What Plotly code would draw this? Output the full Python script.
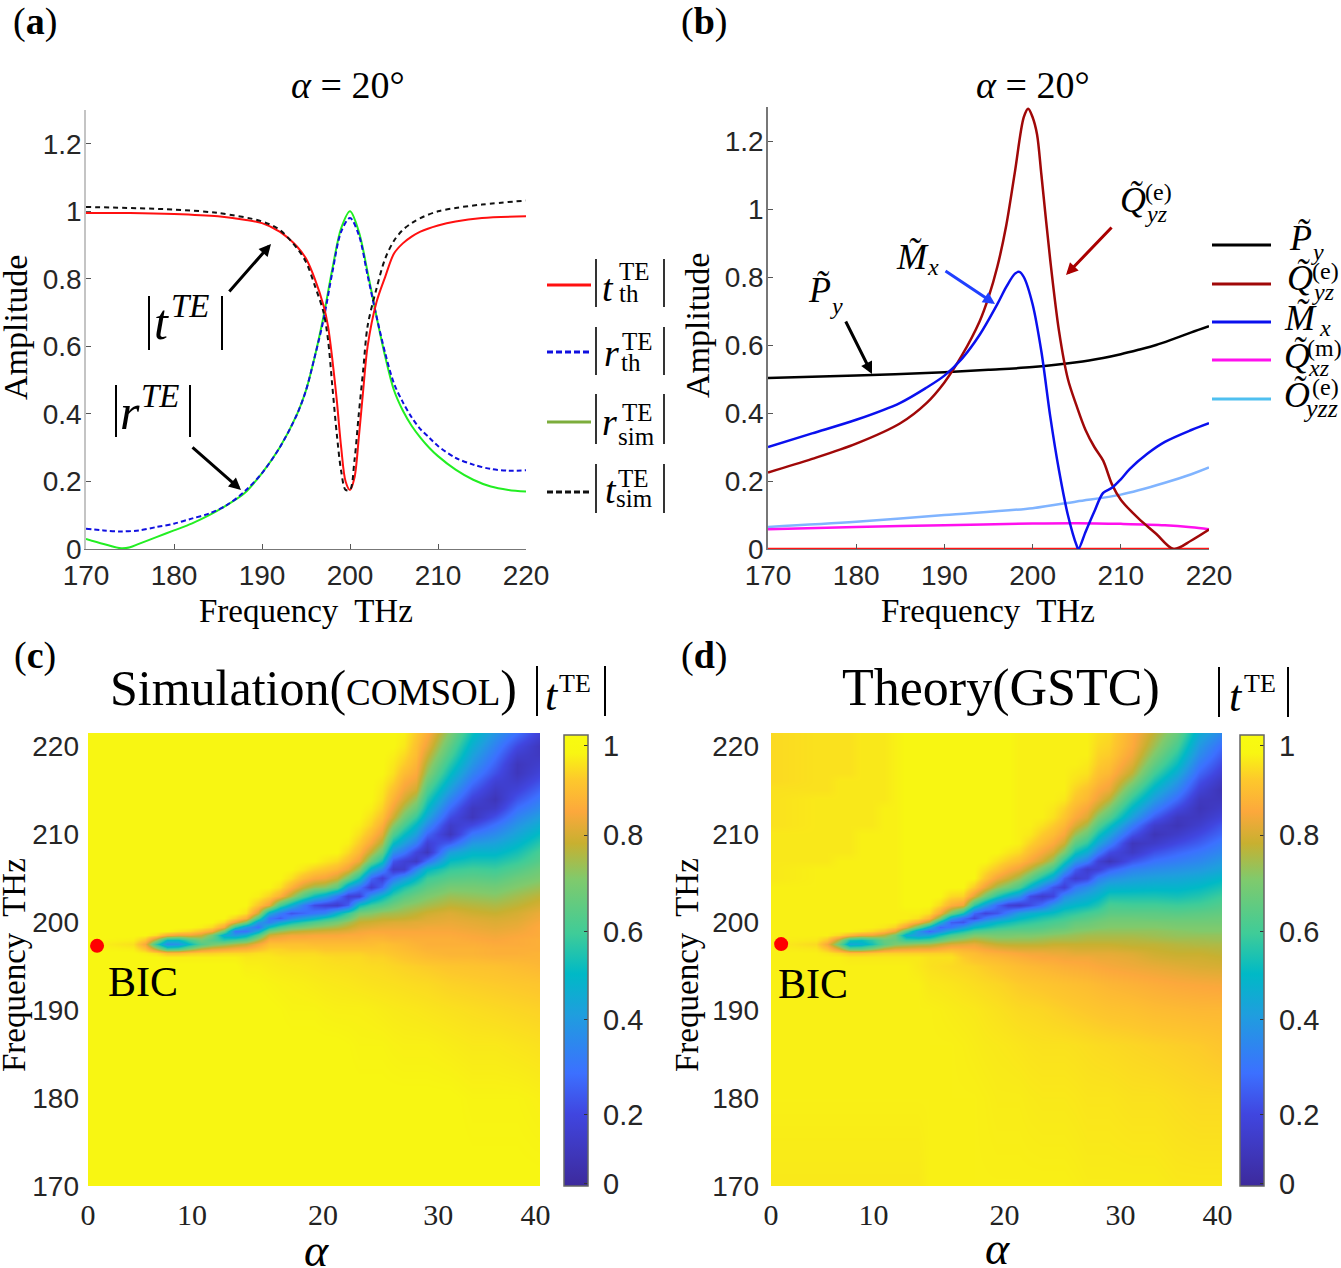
import plotly.graph_objects as go

W, H = 1341, 1268
SERIF = "Liberation Serif"
SANS = "Liberation Sans"

# ---------- panel (a) ----------
F_T_TH = [170,175,180,185,188,190,192,193,194,195,196,197,197.5,198,198.5,199,199.5,200,200.5,201,201.5,202,203,204,205,206,207,208,210,212,215,220]
T_TH = [.995,.995,.992,.985,.975,.965,.94,.92,.895,.86,.80,.72,.66,.56,.44,.30,.20,.175,.21,.33,.47,.60,.73,.806,.875,.905,.925,.94,.958,.97,.98,.985]
F_T_SIM = [170,180,185,190,192,194,195,196,197,197.5,198,198.5,199,199.5,200,200.5,201,201.5,202,203,204,205,206,207,208,210,212,215,220]
T_SIM = [1.013,1.005,.995,.97,.945,.89,.85,.78,.70,.62,.48,.34,.23,.175,.175,.26,.40,.53,.66,.77,.86,.913,.945,.965,.98,1.0,1.01,1.02,1.032]
F_R_TH = [170,172,174,176,178,180,182,184,186,188,190,192,194,195,196,197,198,199,200,201,202,203,204,205,206,207,208,209,210,212,214,216,218,220]
R_TH = [.06,.055,.052,.055,.065,.075,.09,.105,.13,.17,.225,.30,.40,.47,.57,.68,.82,.94,.98,.93,.81,.69,.58,.49,.435,.39,.355,.33,.305,.27,.25,.237,.232,.233]
F_R_SIM = [170,172,174,175,176,178,180,182,184,186,188,190,192,194,195,196,197,198,199,200,201,202,203,204,205,206,207,208,209,210,212,214,216,218,220]
R_SIM = [.03,.015,.002,.005,.015,.035,.055,.075,.10,.13,.165,.225,.30,.40,.47,.57,.69,.83,.95,1.0,.94,.82,.69,.57,.47,.41,.365,.33,.30,.275,.235,.205,.185,.175,.17]

# ---------- panel (b) ----------
F_P = [170,180,190,195,200,205,208,210,212,214,216,218,220]
P_Y = [.503,.51,.52,.527,.535,.549,.562,.573,.586,.60,.618,.637,.655]
F_Q = [170,175,180,185,188,190,192,194,195,196,197,198,199,199.5,200,200.5,201,202,203,204,205,206,207,208,209,210,212,214,216,218,220]
Q_YZ = [.225,.265,.31,.37,.43,.49,.57,.67,.74,.83,.95,1.11,1.27,1.295,1.27,1.22,1.10,.85,.64,.50,.42,.35,.30,.26,.19,.145,.09,.045,0,.025,.057]
F_M = [170,175,180,185,188,190,192,194,196,197,198,198.5,199,200,201,202,203,204,205,205.2,206,207,208,209,210,211,213,215,218,220]
M_X = [.30,.34,.38,.43,.475,.51,.56,.63,.72,.77,.81,.815,.80,.72,.58,.39,.23,.10,.01,0,.05,.11,.165,.18,.205,.235,.28,.315,.35,.37]
F_QM = [170,180,190,200,205,210,215,218,220]
Q_XZ = [.058,.065,.07,.075,.076,.074,.07,.064,.058]
F_O = [170,180,190,200,205,210,215,218,220]
O_YZZ = [.065,.08,.10,.12,.14,.16,.195,.22,.24]
F_ZERO = [170,220]
ZERO = [0,0]

# ---------- panels (c), (d): |t| in percent, one list per alpha, over FREQ ----------
ALPHA = [0,4,5,6,7,8,9,10,11,12,13,14,15,16,17,18,19,20,21,22,23,24,25,26,27,28,29,30,32,34,36,38,40]
FREQ = [170,180,186,190,193,195,
        196,196.5,197,197.5,198,198.5,199,199.5,200,200.5,201,
        202,203,204,205,206,207,208,209,210,211,212,213,214,215,216,217,218,219,220,221.5]

SIM = [
 [100]*37,
 [100]*6+[100,100,99,97,99,100,100,100,100,100,100]+[100]*20,
 [100]*6+[100,99,93,86,93,100,100,100,100,100,100]+[100]*20,
 [100]*6+[100,97,78,56,74,97,100,100,100,100,100]+[100]*20,
 [100]*6+[99,92,60,34,48,88,100,100,100,100,100]+[100]*20,
 [100]*6+[99,92,62,36,48,84,98,100,100,100,100]+[100]*20,
 [100]*6+[99,94,72,50,60,84,96,100,100,100,100]+[100]*20,
 [100]*6+[99,95,80,62,68,80,92,99,100,100,100]+[100]*20,
 [100]*6+[99,95,84,68,62,68,86,96,100,100,100]+[100]*20,
 [100]*6+[99,96,86,72,56,44,66,86,96,100,100]+[100]*20,
 [100]*6+[99,96,88,76,60,38,28,56,84,95,100]+[100]*20,
 [100,100,100,100,100,99]+[98,96,89,79,64,46,27,38,70,88,97]+[100]*20,
 [100,100,100,100,99.8,99]+[98,97,92,86,76,62,44,26,38,60,80]+[93,99]+[100]*18,
 [100,100,100,100,99.5,98.5]+[98,97,95,92,88,80,68,50,30,28,44]+[84,95]+[100]*18,
 [100,100,100,99.8,99.2,98.2]+[97.5,96,95,92,88,83,73,60,42,22,30]+[60,88,97]+[100]*17,
 [100,100,100,99.5,99,98]+[97,96,94,92,89,85,77,66,50,33,20]+[46,76,89,97]+[100]*16,
 [100,100,100,99.5,98.8,97.8]+[97,96,94,92,89,85,79,69,56,40,24]+[30,62,80,91,98]+[100]*15,
 [100,100,100,99.5,98.5,97.5]+[97,96,94,91,89,86,80,72,61,46,28]+[18,50,74,87,95]+[100]*15,
 [100,100,100,99.2,98.2,97.2]+[96.5,95,93,91,89,86,81,74,65,53,32]+[14,42,72,85,93,98]+[100]*14,
 [100,100,100,99,98,97]+[96,95,93,91,89,86,82,76,69,59,47]+[12,28,64,80,90,96]+[100]*14,
 [100,100,99.8,99,97.8,96.8]+[96,95,93,91,89,87,83,79,74,66,57]+[22,14,40,68,84,91,96,99]+[100]*12,
 [100,100,99.5,99,97.5,96.5]+[96,95,93,91,89,87,85,82,79,75,69]+[50,14,28,52,72,84,90,94,97,99]+[100]*10,
 [100,100,99.5,98.8,97.2,96.2]+[95,94,93,91,90,88,86,83,80,76,71]+[58,38,13,24,46,66,78,86,91,95,97,99]+[100]*8,
 [100,100,99.5,98.5,97,96]+[95,94,93,92,90,88,86,84,81,78,74]+[62,48,24,14,34,52,66,76,83,88,92,95,97,98,99]+[100]*5,
 [100,100,99.2,98.2,96.8,95.5]+[94,93,92,91,89,87,86,84,82,78,75]+[67,57,45,28,11,20,36,50,62,72,80,85,89,92,95,97,98,99,100,100],
 [100,100,99,98,96.5,95]+[93,92,91,90,89,87,86,84,82,79,76]+[71,63,53,38,12,14,28,40,50,60,68,75,81,85,88,91,94,96,98,99],
 [100,100,99,97.8,96.2,94.5]+[92,91,90,89,88,87,86,84,83,80,78]+[73,67,59,48,32,10,16,30,40,48,57,66,73,80,84,87,89,91,92,94],
 [100,100,99,97.5,96,94]+[91,90,89,88,88,87,86,85,83,82,80]+[75,70,64,58,48,26,8,14,24,34,42,49,55,61,67,72,76,80,84,88],
 [100,100,98.5,97,95,93]+[90,89,89,88,88,87,86,85,84,83,82]+[78,74,69,63,57,50,40,22,8,11,18,25,32,39,45,50,55,60,64,70],
 [100,99.5,98,96.5,94.5,92.5]+[90,89,89,88,87,86,85,84,83,82,80]+[77,73,69,64,59,53,47,38,28,17,8,9,15,21,27,32,37,41,45,51],
 [100,99.5,98,96,94,92]+[89,88,88,87,86,85,84,83,82,81,79]+[76,72,68,63,58,53,47,41,34,27,19,11,7,10,14,19,23,27,31,37],
 [100,99.5,97.5,95.5,93.5,91]+[89,88,88,87,87,86,85,84,83,82,81]+[78,75,71,67,62,57,52,47,42,37,32,26,20,15,11,8,8,12,17,26],
 [100,99,97,95,93,90]+[89,89,88,88,88,87,87,87,86,85,84]+[81,78,74,70,67,63,60,55,50,45,40,34,29,24,19,15,12,9,8,14],
]

THEORY = [
 [98,99,99,99,99,99]+[99]*11+[99,99,99,98,98,98,98,98,98,97,97,97,97,97,96,96,96,96,96,96],
 [98,99,99,99,99,99]+[99,99,98,96,98,99,99,99,99,99,99]+[99]*5+[98]*8+[97]*7,
 [98,99,99,99,99,99]+[99,98,93,86,93,99,99,99,99,99,99]+[99]*5+[98]*8+[97]*7,
 [98,99,99,99,99,99]+[99,96,82,66,76,96,99,99,99,99,99]+[99]*6+[98]*9+[97]*5,
 [98,99,99,99,99,99]+[98,93,66,42,52,90,99,99,99,99,99]+[99]*6+[98]*9+[97]*5,
 [98,99,99,99,99,99]+[98,93,66,45,50,85,98,99,99,99,99]+[99]*9+[98]*11,
 [98,99,99,99,99,99]+[98,94,72,52,56,84,96,99,99,99,99]+[99]*9+[98]*11,
 [98,99,99,99,99,99]+[98,95,80,64,66,78,92,98,99,99,99]+[99]*12+[98]*8,
 [98,99,99,99,99,99]+[98,95,84,70,66,68,84,95,99,99,99]+[99]*20,
 [98,99,99,99,99,99]+[98,95,85,72,58,44,62,84,95,99,99]+[100]*20,
 [98,99,99,99,99,98]+[98,95,86,74,58,38,38,66,88,97,99]+[100]*20,
 [99,99,99,99,98,97]+[97,95,86,75,60,42,24,46,76,90,97]+[100]*20,
 [99,99,99,98.8,97.8,96.5]+[97,95,88,79,66,52,34,24,46,70,86]+[96]+[100]*19,
 [99,99,99,98.5,97.5,96]+[97,95,90,82,72,60,46,28,22,40,68]+[88,96]+[100]*18,
 [99,99,98.8,98.2,97,95.5]+[94,92,89,83,75,65,53,38,20,26,52]+[84,95]+[100]*18,
 [99,99,98.5,98,96.5,95]+[92,91,88,84,78,70,60,48,34,16,24]+[56,82,94]+[100]*17,
 [99,98.8,98.2,97.5,96,94]+[91,89,86,81,76,70,62,52,42,28,16]+[40,68,84,93,97]+[100]*15,
 [99,98.5,98,97,95.5,93]+[90,88,84,79,74,69,64,56,48,36,20]+[24,54,74,85,93,97]+[100]*14,
 [99,98.5,97.8,96.5,94.8,92]+[89,87,83,78,74,69,65,58,51,42,30]+[14,44,68,80,88,94,98]+[100]*13,
 [99,98.5,97.5,96,94,91]+[88,86,82,78,74,70,65,60,54,48,40]+[12,36,60,74,84,91,96]+[99]*13,
 [99,98.2,97.2,95.8,93.5,90.2]+[87,85,82,78,74,70,65,61,56,51,45]+[18,18,46,64,77,86,91,95,98]+[99]*11,
 [99,98,97,95.5,93,89.5]+[86,85,82,78,75,71,66,62,58,54,48]+[26,12,32,52,68,80,86,91,94,97]+[99]*10,
 [99,98,97,95,92.5,88.8]+[86,84,82,79,76,72,68,64,60,56,50]+[38,16,20,42,58,72,81,87,91,94,97,98]+[99]*8,
 [99,98,97,94.5,92,88]+[85,84,82,79,76,73,69,65,62,58,54]+[45,34,14,22,40,54,70,80,86,90,93,95,98]+[99]*7,
 [98.8,97.8,96.8,94,91.5,87.5]+[85,83,81,79,76,74,71,68,65,61,56]+[48,39,28,12,22,38,52,64,74,82,87,90,93,95,97,98,99,99,99,99],
 [98.5,97.5,96.5,93.5,91,87]+[85,83,81,79,77,75,72,69,66,63,59]+[50,43,34,16,12,30,44,56,66,75,82,86,90,92,95,97,98,99,99,99],
 [98.5,97.5,96.2,93,90.2,86.2]+[84,83,81,79,77,75,73,70,68,65,61]+[54,47,40,30,14,14,30,42,52,62,70,78,84,87,90,92,94,95,96,97],
 [98.5,97.5,96,92.5,89.5,85.5]+[84,83,81,79,77,75,73,71,69,67,64]+[60,53,45,35,22,7,18,32,42,52,62,70,78,84,87,90,92,94,95,96],
 [98.5,97,95.5,92,88.5,84.5]+[83,82,80,78,77,75,73,71,69,67,64]+[59,53,46,39,31,20,10,8,20,30,40,48,56,64,72,78,82,85,87,88],
 [98.5,97,95,91,87.5,83.5]+[81,80,79,78,76,74,73,71,69,66,64]+[59,53,47,41,34,27,19,11,7,12,22,31,39,46,53,59,65,70,74,78],
 [98,96.5,94.5,90.5,86.5,82.5]+[80,79,78,77,75,73,72,70,68,66,63]+[58,52,47,42,36,30,24,17,11,7,9,17,25,32,38,44,50,55,60,66],
 [98,96,94,90,86,81.5]+[80,79,78,76,75,73,71,70,68,66,64]+[59,54,49,44,38,33,28,22,17,12,9,7,9,14,19,24,29,34,38,44],
 [98,96,93,90,85.5,81]+[79,78,77,76,74,73,71,70,68,67,65]+[62,58,53,48,42,38,33,29,24,20,15,11,8,6,9,13,17,21,25,33],
]

BIC_ALPHA_C, BIC_FREQ_C = [0.8], [197.3]
BIC_ALPHA_D, BIC_FREQ_D = [0.9], [197.5]

AMP_TICKS = [0,.2,.4,.6,.8,1,1.2]
AMP_TEXT = ["0","0.2","0.4","0.6","0.8","1","1.2"]
FREQ_TICKS = [170,180,190,200,210,220]
ALPHA_POS_C = [0,9.2,20.8,31,39.6]
ALPHA_POS_D = [0,9.1,20.7,31,39.6]
ALPHA_TEXT = ["0","10","20","30","40"]
CB_POS = [.005,.164,.383,.586,.809,1.015]
CB_TEXT = ["0","0.2","0.4","0.6","0.8","1"]

COLORSCALE = [[0,"#3d2a9c"],[.16,"#4046e0"],[.25,"#3c70ff"],[.38,"#1f9ede"],[.47,"#00b9c6"],
              [.56,"#3fcc98"],[.68,"#80ca6c"],[.76,"#c8b030"],[.83,"#fca83c"],[.9,"#fdc82c"],
              [.96,"#f8f612"],[1,"#f8fb10"]]

def px(x): return x / W
def py(y): return 1 - y / H

fig = go.Figure()

def line(x, y, color, name, axis, dash=None, width=2):
    fig.add_trace(go.Scatter(x=x, y=y, mode="lines", name=name, showlegend=False, xaxis="x"+axis, yaxis="y"+axis,
                             cliponaxis=False, line=dict(color=color, width=width, dash=dash, shape="spline", smoothing=0.9)))

line(F_R_SIM, R_SIM, "#22ee22", "r sim", "")
line(F_R_TH, R_TH, "#1010e0", "r th", "", dash="5px,3px")
line(F_T_TH, T_TH, "#ff1010", "t th", "")
line(F_T_SIM, T_SIM, "#111111", "t sim", "", dash="5px,4px")

line(F_ZERO, ZERO, "#ff1515", "zero", "2", width=2.5)
line(F_O, O_YZZ, "#80b4ff", "O yzz", "2", width=2.5)
line(F_QM, Q_XZ, "#ff10ee", "Q xz", "2", width=2.5)
line(F_P, P_Y, "#000000", "P y", "2", width=2.5)
line(F_Q, Q_YZ, "#a00808", "Q yz", "2", width=2.5)
line(F_M, M_X, "#0a10ee", "M x", "2", width=2.5)

def heat(table, axis, cbx):
    fig.add_trace(go.Heatmap(x=ALPHA, y=FREQ, z=[[v / 100 for v in row] for row in zip(*table)],
                             xaxis="x"+axis, yaxis="y"+axis, zmin=0, zmax=1.04, zsmooth="best",
                             colorscale=COLORSCALE, hoverinfo="skip",
                             colorbar=dict(x=px(cbx), xanchor="left", y=py(1186), yanchor="bottom",
                                           len=451, lenmode="pixels", thickness=24, thicknessmode="pixels",
                                           xpad=0, ypad=0, outlinecolor="#666666", outlinewidth=1.5,
                                           ticks="inside", ticklen=4, tickcolor="#333333",
                                           tickvals=CB_POS, ticktext=["\u00a0"+t for t in CB_TEXT],
                                           tickfont=dict(family=SANS, size=29, color="#262626"))))

heat(SIM, "3", 564)
heat(THEORY, "4", 1240)

for ax, a, f in (("3", BIC_ALPHA_C, BIC_FREQ_C), ("4", BIC_ALPHA_D, BIC_FREQ_D)):
    fig.add_trace(go.Scatter(x=a, y=f, mode="markers", showlegend=False, xaxis="x"+ax, yaxis="y"+ax, name="BIC",
                             marker=dict(color="#ff0000", size=14, line=dict(width=0))))

ann, shp = [], []

def text(x, y, s, size=30, angle=0, anchor="center", color="#000000", family=SERIF):
    ann.append(dict(x=px(x), y=py(y), xref="paper", yref="paper", text=s, showarrow=False, xanchor=anchor,
                    yanchor="middle", textangle=angle, font=dict(family=family, size=size, color=color)))

def rule(x0, y0, x1, y1, color="#000000", width=1.6, dash=None):
    shp.append(dict(type="line", xref="paper", yref="paper", x0=px(x0), y0=py(y0), x1=px(x1), y1=py(y1),
                    line=dict(color=color, width=width, dash=dash)))

def arrow(tx, ty, hx, hy, color):
    ann.append(dict(x=px(hx), y=py(hy), xref="paper", yref="paper", ax=tx-hx, ay=ty-hy, axref="pixel", ayref="pixel",
                    text="", showarrow=True, arrowhead=2, arrowsize=0.8, arrowwidth=3, arrowcolor=color))

# panel letters
for x, y, l in ((35,21,"a"),(704,21,"b"),(35,655,"c"),(704,655,"d")):
    text(x, y, f"(<b>{l}</b>)", size=38)

# titles
text(348, 85, "<i>α</i> = 20°", size=38)
text(1033, 85, "<i>α</i> = 20°", size=38)
text(313, 688, "Simulation(<span style='font-size:37px'>COMSOL</span>)", size=50)
text(1001, 688, "Theory(GSTC)", size=52)

# axis titles
for x, y in ((306,611),(988,611)):
    text(x, y, "Frequency  THz", size=33)
text(16, 328, "Amplitude", size=34, angle=-90)
text(698, 326, "Amplitude", size=34, angle=-90)
text(14, 965, "Frequency  THz", size=33, angle=-90)
text(687, 965, "Frequency  THz", size=33, angle=-90)
text(316, 1250, "<i>α</i>", size=46)
text(998, 1248, "<i>α</i>", size=46)

# BIC
text(143, 982, "BIC", size=42)
text(813, 984, "BIC", size=42)

# |t^TE| pieces
def abs_bars(x0, x1, y0, y1, width=1.6):
    rule(x0, y0, x0, y1, width=width)
    rule(x1, y0, x1, y1, width=width)

abs_bars(149, 222, 296, 350, 2)
text(161, 322, "<i>t</i>", size=50); text(190, 306, "<i>TE</i>", size=33)
abs_bars(116, 190, 385, 437, 2)
text(130, 412, "<i>r</i>", size=50); text(160, 396, "<i>TE</i>", size=33)
abs_bars(537, 605, 666, 716, 2)
text(552, 695, "<i>t</i>", size=44); text(575, 683, "TE", size=26)
abs_bars(1219, 1288, 667, 717, 2)
text(1236, 696, "<i>t</i>", size=44); text(1260, 683, "TE", size=26)

arrow(228, 293, 271, 244, "#000000")
arrow(191, 446, 241, 490, "#000000")
arrow(845, 320, 872, 374, "#000000")
arrow(944, 270, 995, 304, "#2040ff")
arrow(1113, 226, 1066, 275, "#aa0000")

# legend (a)
LEG_A = [(285, "#ff1010", None, "t", "th", 259, 307, 608, 288, 634, 271, 629, 293),
         (352, "#1010e0", "6px,3px", "r", "th", 327, 375, 611, 353, 637, 341, 631, 362),
         (422, "#7cad3c", None, "r", "sim", 394, 444, 609, 422, 637, 413, 636, 436),
         (492, "#111111", "6px,3px", "t", "sim", 464, 513, 611, 490, 633, 478, 634, 498)]
for y, c, d, v, sub, b0, b1, vx, vy, tx, ty, sx, sy in LEG_A:
    rule(547, y, 591, y, color=c, width=3, dash=d)
    abs_bars(596, 664, b0, b1)
    text(vx, vy, f"<i>{v}</i>", size=38)
    text(tx, ty, "TE", size=25)
    text(sx, sy, sub, size=25)

# legend (b)
for y, c in ((245,"#000000"),(284,"#a00808"),(322,"#0a10ee"),(360,"#ff10ee"),(399,"#4fc0f0")):
    rule(1212, y, 1271, y, color=c, width=3)

def tensor(x, y, base, sx, sy, sub, ux=None, uy=None, sup=None, size=36, subsize=24):
    text(x, y, f"<i>{base}</i>", size=size)
    text(sx, sy, f"<i>{sub}</i>", size=subsize)
    if sup:
        text(ux, uy, sup, size=24)

tensor(1300, 238, "P\u0303", 1317, 252, "y")
tensor(1300, 278, "Q\u0303", 1323, 292, "yz", 1325, 271, "(e)")
tensor(1300, 318, "M\u0303", 1325, 328, "x")
tensor(1297, 356, "Q\u0303", 1319, 368, "xz", 1324, 348, "(m)")
tensor(1297, 395, "O\u0303", 1320, 408, "yzz", 1325, 387, "(e)", subsize=26)
tensor(819, 290, "P\u0303", 836, 306, "y")
tensor(912, 257, "M\u0303", 933, 267, "x")
tensor(1133, 200, "Q\u0303", 1156, 214, "yz", 1158, 192, "(e)")

def line_axes(x0, x1, y0, y1, left_color):
    xa = dict(domain=[px(x0), px(x1)], range=[170,220], tickvals=FREQ_TICKS, ticks="inside", ticklen=5,
              tickcolor="#555555", showgrid=False, zeroline=False, showline=True, linecolor="#777777", linewidth=1,
              tickfont=dict(family=SANS, size=28, color="#262626"), ticklabelstandoff=1)
    ya = dict(domain=[py(y1), py(y0)], range=[0,1.3], tickvals=AMP_TICKS, ticktext=AMP_TEXT, ticks="inside", ticklen=5,
              tickcolor="#555555", showgrid=False, zeroline=False, showline=True, linecolor=left_color, linewidth=1.5,
              tickfont=dict(family=SANS, size=28, color="#262626"), ticklabelstandoff=-3)
    return xa, ya

def heat_axes(x0, x1, pos, ystand):
    xa = dict(domain=[px(x0), px(x1)], range=[0,40], tickvals=pos, ticktext=ALPHA_TEXT, ticks="", showgrid=False,
              zeroline=False, showline=False, tickfont=dict(family=SERIF, size=30, color="#222222"), ticklabelstandoff=8)
    ya = dict(domain=[py(1186), py(733)], range=[170,221.5], tickvals=FREQ_TICKS, ticks="", showgrid=False,
              zeroline=False, showline=False, tickfont=dict(family=SANS, size=28, color="#262626"), ticklabelstandoff=ystand)
    return xa, ya

xa1, ya1 = line_axes(86, 526, 110, 549, "#c4c4c4")
xa2, ya2 = line_axes(768, 1209, 107, 549, "#777777")
xa3, ya3 = heat_axes(88, 540, ALPHA_POS_C, 8)
xa4, ya4 = heat_axes(771, 1222, ALPHA_POS_D, 11)
ya1["anchor"] = "x"; ya2["anchor"] = "x2"; ya3["anchor"] = "x3"; ya4["anchor"] = "x4"
xa1["anchor"] = "y"; xa2["anchor"] = "y2"; xa3["anchor"] = "y3"; xa4["anchor"] = "y4"

fig.update_layout(width=W, height=H, autosize=False, margin=dict(l=0, r=0, t=0, b=0, autoexpand=False),
                  paper_bgcolor="white", plot_bgcolor="white", showlegend=False,
                  xaxis=xa1, yaxis=ya1, xaxis2=xa2, yaxis2=ya2, xaxis3=xa3, yaxis3=ya3, xaxis4=xa4, yaxis4=ya4,
                  annotations=ann, shapes=shp)

fig.write_html("out.html", config={"displayModeBar": False}, post_script="document.body.style.margin='0';")
